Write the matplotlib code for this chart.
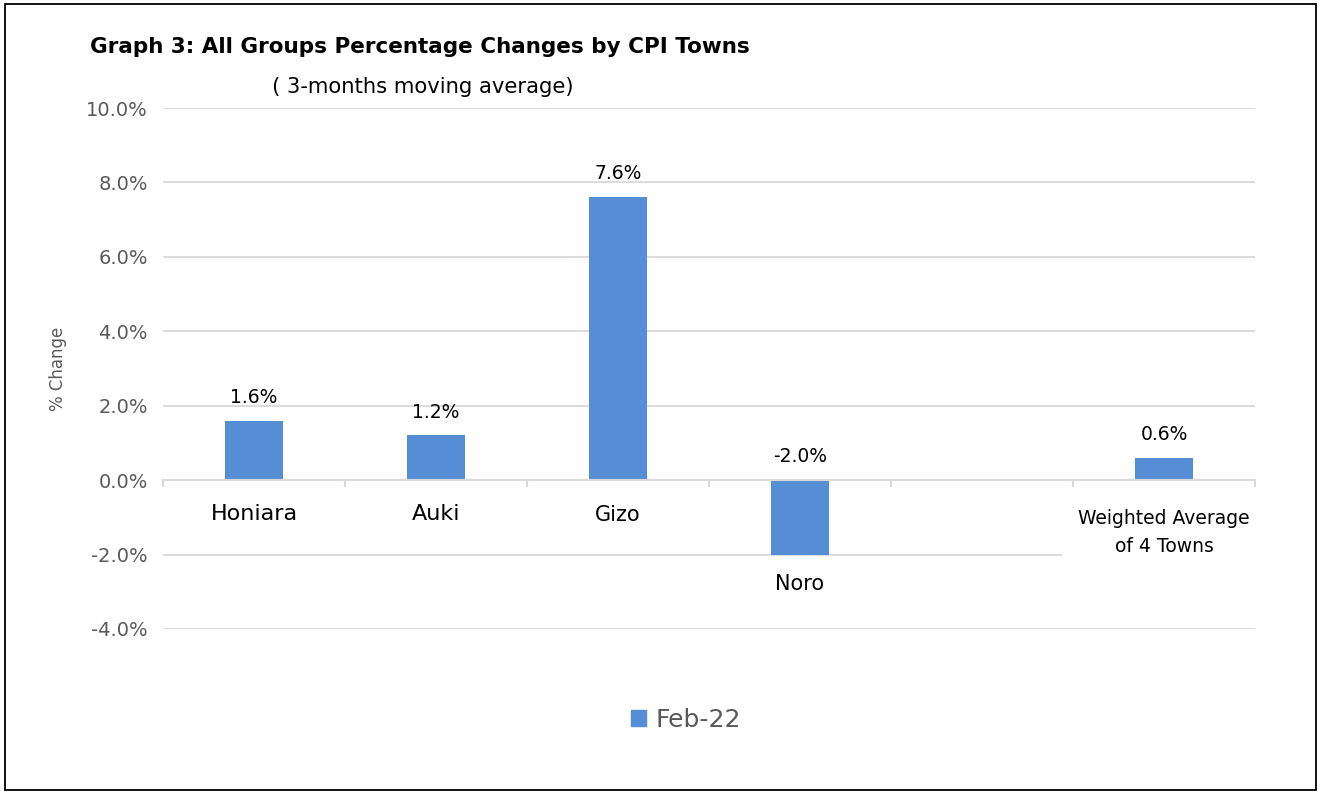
import matplotlib

matplotlib.use("Agg")
import matplotlib.pyplot as plt
import numpy as np
from matplotlib.patches import Patch, Rectangle

plt.rcParams["font.family"] = ["DejaVu Sans"]

# categories (one empty slot between Noro and the weighted average)
towns = ["Honiara", "Auki", "Gizo", "Noro", "", "Weighted Average\nof 4 Towns"]
feb22 = [1.6, 1.2, 7.6, -2.0, np.nan, 0.6]
series_name = "Feb-22"
y_ticks = [-4, -2, 0, 2, 4, 6, 8, 10]

BAR_COLOR = "#558ED5"
GRID = "#d9d9d9"
GRAY_TEXT = "#595959"

fig = plt.figure(figsize=(13.2, 7.94), dpi=100)
ax = fig.add_axes([163 / 1320, 1 - 629 / 794, 1092 / 1320, (629 - 108) / 794])

x = np.arange(len(towns))
vals = np.array(feb22, dtype=float)
ax.bar(x, vals, width=0.32, color=BAR_COLOR, zorder=3)

ax.set_xlim(-0.5, len(towns) - 0.5)
ax.set_ylim(-4, 10)
ax.set_yticks(y_ticks)
ax.set_yticklabels([f"{t:.1f}%" for t in y_ticks], color=GRAY_TEXT, fontsize=14)
ax.tick_params(axis="y", length=0, pad=11)
for t in y_ticks:
    if t != 0:
        ax.axhline(t, color=GRID, linewidth=1.3, zorder=1)

for side in ["top", "right", "left"]:
    ax.spines[side].set_visible(False)
ax.spines["bottom"].set_position(("data", 0))
ax.spines["bottom"].set_color(GRID)
ax.spines["bottom"].set_linewidth(1.5)
ax.spines["bottom"].set_zorder(4)
ax.set_xticks(np.arange(-0.5, len(towns)))
ax.set_xticklabels([])
ax.tick_params(axis="x", direction="out", length=5, width=1.5, color=GRID)

ax.set_ylabel("% Change", color=GRAY_TEXT, fontsize=12, labelpad=14)

# value labels
for xi, v in zip(x, vals):
    if np.isnan(v):
        continue
    base = max(v, 0)
    ax.annotate(f"{v:.1f}%", (xi, base), xytext=(0, 10), textcoords="offset points",
                ha="center", va="bottom", fontsize=13.5, color="black")

# category labels
for xi, (name, v) in zip(x, zip(towns, vals)):
    if not name:
        continue
    if v < 0:
        ax.text(xi, v - 0.78, name, ha="center", va="center", fontsize=15)
    elif "\n" in name:
        ax.text(xi, -1.4, name, ha="center", va="center", fontsize=13.5,
                linespacing=1.6, zorder=5,
                bbox=dict(facecolor="white", edgecolor="none", pad=12))
    elif name == "Gizo":
        ax.text(xi, -0.95, name, ha="center", va="center", fontsize=15)
    else:
        ax.text(xi, -0.9, name, ha="center", va="center", fontsize=16)

fig.text(90 / 1320, 1 - 47 / 794, "Graph 3: All Groups Percentage Changes by CPI Towns",
         fontsize=15.5, fontweight="bold", ha="left", va="center")
fig.text(272 / 1320, 1 - 87 / 794, "( 3-months moving average)",
         fontsize=15.2, ha="left", va="center")

fig.legend(handles=[Patch(color=BAR_COLOR, label=series_name)], loc="center",
           bbox_to_anchor=(686 / 1320, 1 - 720 / 794), frameon=False, fontsize=18,
           labelcolor=GRAY_TEXT, handlelength=0.6, handleheight=0.6, handletextpad=0.4)

fig.patches.append(Rectangle((5 / 1320, 4 / 794), 1311 / 1320, 786 / 794,
                             transform=fig.transFigure, fill=False,
                             edgecolor="black", linewidth=1.3))

fig.savefig("out.png", dpi=100)
